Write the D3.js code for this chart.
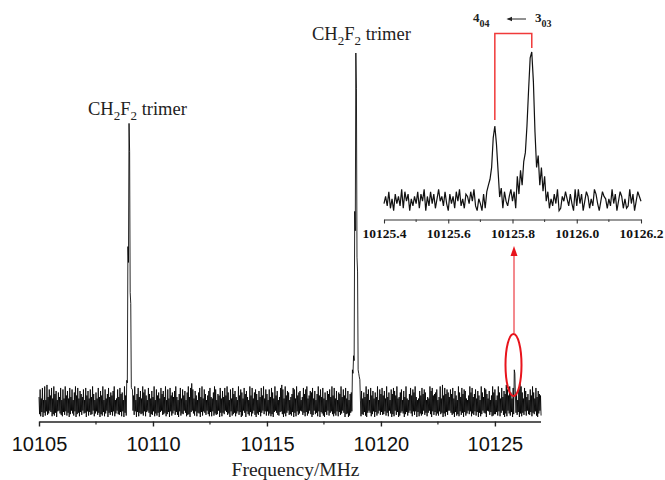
<!DOCTYPE html>
<html>
<head>
<meta charset="utf-8">
<script src="https://cdn.jsdelivr.net/npm/d3@7"></script>
<style>
  body { margin: 0; background: #fff; }
  svg { display: block; }
</style>
</head>
<body>
<div id="chart"></div>
<script>
// main spectrum, 0.05 MHz bins: upper and lower excursion of the noise in each bin
// (one base-36 digit per bin)
var mainStart = 10105, mainStep = 0.05;
var mainHigh = [
  "2718090a27381946052807193618270593816427",
  "0836172940518263907148253690172845093617",
  "5173904826195730841629073518462907183526",
  "92048173605928b7163058291740368215970438",
  "1628395071846209375184620938157406283917",
  "4072851936028a71936502487193560284791365",
  "816049372815064729381605492738160459b738",
  "3806152947083615290748361925074863912570",
  "6291048375920163847502196834570291a38475",
  "2748163095284761039582471630952874160395",
  "7039518264a73951862407b95186240739518264",
  "3"
].join("");
var mainLow = [
  "5829371640285739104682617395047195382604",
  "3917265084163957284093627184056281937450",
  "7406192835471820395618473920653852917406",
  "2691745038659204718349271360582817465093",
  "8350264917538416297039157284069462830517",
  "1748592036721594830657293816401638274059",
  "6053819247926073158471826403954973160528",
  "4185627930385192740626517380495806297314",
  "9527304816192847506383059162747153948260",
  "0364927581639274051846172938503490162875",
  "5271830694804729513629483617056283517940",
  "7"
].join("");
// peaks [MHz, relative intensity]
var mainPeaks = [
  [10108.85, 0.07], [10108.9, 0.45], [10108.95, 0.8], [10109.0, 0.32], [10109.05, 0.05],
  [10118.75, 0.1], [10118.8, 0.14], [10118.85, 0.55], [10118.9, 1.0], [10118.95, 0.42], [10119.0, 0.1], [10119.05, 0.08],
  [10125.85, 0.1]
];
var mainTicks = [10105, 10110, 10115, 10120, 10125];
var mainMinor = [10107.5, 10112.5, 10117.5, 10122.5];

// inset (zoom on 10125.4 - 10126.2 MHz), 0.005 MHz per sample
var insetStart = 10125.4, insetStep = 0.005;
var insetNoise = [
  "3628150736291847052638174906283715946283",
  "0736184925176384920530718459265307184269",
  "4815273906485127309664815273901648527309",
  "2937048615297304865152937048615129370486",
  "4"
].join("");
var insetPeaks = [
  [10125.725, 0.1], [10125.73, 0.14], [10125.735, 0.22], [10125.74, 0.42], [10125.745, 0.5],
  [10125.75, 0.38], [10125.755, 0.2], [10125.76, 0.02], [10125.765, 0.08],
  [10125.815, 0.16], [10125.82, 0.04], [10125.825, 0.2], [10125.83, 0.1], [10125.835, 0.26],
  [10125.84, 0.32], [10125.845, 0.5], [10125.85, 0.74], [10125.855, 0.96], [10125.86, 1.0],
  [10125.865, 0.8], [10125.87, 0.46], [10125.875, 0.22], [10125.88, 0.3], [10125.885, 0.1],
  [10125.89, 0.22], [10125.895, 0.06], [10125.9, 0.16]
];
var insetTicks = [10125.4, 10125.6, 10125.8, 10126.0, 10126.2];
var insetMinor = [10125.5, 10125.7, 10125.9, 10126.1];

function digit(c) { return parseInt(c, 36); }

// each bin gives two points: its high then its low excursion
var mainData = [];
mainHigh.split("").forEach(function (c, i) {
  mainData.push({ f: mainStart + i * mainStep, v: 0.014 + digit(c) * 0.0043 });
  mainData.push({ f: mainStart + (i + 0.5) * mainStep, v: -0.016 - digit(mainLow[i]) * 0.002 });
});
mainPeaks.forEach(function (p) {
  var i = Math.round((p[0] - mainStart) / mainStep);
  mainData[2 * i].v = p[1];
  if (mainData[2 * i + 1]) mainData[2 * i + 1].v = p[1] * 0.9;
});

var insetData = insetNoise.split("").map(function (c, i) {
  return { f: insetStart + i * insetStep, v: (digit(c) - 4.5) * 0.016 };
});
insetPeaks.forEach(function (p) {
  var i = Math.round((p[0] - insetStart) / insetStep);
  if (insetData[i]) insetData[i].v = p[1];
});

var W = 665, H = 480;
var svg = d3.select("#chart").append("svg")
  .attr("width", W).attr("height", H)
  .attr("font-family", "Liberation Serif, Times New Roman, serif");
svg.append("rect").attr("width", W).attr("height", H).attr("fill", "#fff");

/* ---------- main spectrum ---------- */
var x = d3.scaleLinear().domain([10105, 10127]).range([39, 540.5]);
var y = d3.scaleLinear().domain([0, 1]).range([405, 53]);
var axisY = 421.5;

svg.append("path")
  .datum(mainData)
  .attr("fill", "none")
  .attr("stroke", "#000")
  .attr("stroke-width", 0.85)
  .attr("d", d3.line().x(function (d) { return x(d.f); }).y(function (d) { return y(d.v); }));

var gx = svg.append("g")
  .attr("transform", "translate(0," + axisY + ")")
  .call(d3.axisBottom(x).tickValues(mainTicks).tickFormat(d3.format("d"))
    .tickSize(5).tickSizeOuter(0).tickPadding(10));
gx.select(".domain").attr("stroke", "#222").attr("stroke-width", 1.6);
gx.selectAll(".tick line").attr("stroke", "#222").attr("stroke-width", 1.4);
gx.selectAll(".tick text")
  .attr("font-family", "Liberation Sans, Arial, sans-serif")
  .attr("font-size", 20).attr("fill", "#111");
gx.selectAll(".minor").data(mainMinor).enter().append("line")
  .attr("class", "minor")
  .attr("x1", function (d) { return x(d); }).attr("x2", function (d) { return x(d); })
  .attr("y1", 0).attr("y2", 3)
  .attr("stroke", "#222").attr("stroke-width", 1.2);

svg.append("text")
  .attr("x", 295.5).attr("y", 476)
  .attr("text-anchor", "middle")
  .attr("font-size", 19.5).attr("fill", "#222")
  .text("Frequency/MHz");

// peak labels
function trimerLabel(px, py) {
  var t = svg.append("text").attr("x", px).attr("y", py)
    .attr("font-size", 18.5).attr("fill", "#222");
  t.append("tspan").text("CH");
  t.append("tspan").attr("dy", 5).attr("font-size", 13).text("2");
  t.append("tspan").attr("dy", -5).text("F");
  t.append("tspan").attr("dy", 5).attr("font-size", 13).text("2");
  t.append("tspan").attr("dy", -5).text(" trimer");
}
trimerLabel(88, 115);
trimerLabel(312, 40);

/* ---------- red marker ellipse and arrow ---------- */
svg.append("ellipse")
  .attr("cx", 513.5).attr("cy", 365).attr("rx", 8).attr("ry", 31)
  .attr("fill", "none").attr("stroke", "#e8141c").attr("stroke-width", 2);
svg.append("line")
  .attr("x1", 514).attr("x2", 514).attr("y1", 333).attr("y2", 254)
  .attr("stroke", "#e8141c").attr("stroke-width", 1);
svg.append("path")
  .attr("d", "M514,246 L510.5,256 L517.5,256 Z")
  .attr("fill", "#e8141c");

/* ---------- inset ---------- */
var xi = d3.scaleLinear().domain([10125.4, 10126.2]).range([384, 641]);
var yi = d3.scaleLinear().domain([0, 1]).range([200, 52]);
var insetAxisY = 219.5;

svg.append("path")
  .datum(insetData)
  .attr("fill", "none")
  .attr("stroke", "#111")
  .attr("stroke-width", 1.2)
  .attr("d", d3.line().x(function (d) { return xi(d.f); }).y(function (d) { return yi(d.v); }));

var gi = svg.append("g")
  .attr("transform", "translate(0," + insetAxisY + ")")
  .call(d3.axisBottom(xi).tickValues(insetTicks).tickFormat(d3.format(".1f"))
    .tickSize(4).tickSizeOuter(0).tickPadding(4.5));
gi.select(".domain").attr("stroke", "#333").attr("stroke-width", 1.2);
gi.selectAll(".tick line").attr("stroke", "#333").attr("stroke-width", 1.1);
gi.selectAll(".tick text")
  .attr("font-family", "Liberation Serif, Times New Roman, serif")
  .attr("font-weight", "bold").attr("font-size", 13.5).attr("fill", "#111");
gi.selectAll(".minor").data(insetMinor).enter().append("line")
  .attr("class", "minor")
  .attr("x1", function (d) { return xi(d); }).attr("x2", function (d) { return xi(d); })
  .attr("y1", 0).attr("y2", 2.5)
  .attr("stroke", "#333").attr("stroke-width", 1);

// transition bracket 4_04 <- 3_03
svg.append("path")
  .attr("d", "M" + xi(10125.745) + ",120 V33.5 H" + xi(10125.86) + " V48")
  .attr("fill", "none").attr("stroke", "#f03a3a").attr("stroke-width", 1.5);

function qLabel(px, main, sub) {
  var t = svg.append("text").attr("x", px).attr("y", 21.5)
    .attr("font-size", 13).attr("font-weight", "bold").attr("fill", "#222");
  t.append("tspan").text(main);
  t.append("tspan").attr("dy", 5).attr("font-size", 10).text(sub);
}
qLabel(473, "4", "04");
qLabel(535, "3", "03");
svg.append("line")
  .attr("x1", 510).attr("x2", 526).attr("y1", 19).attr("y2", 19)
  .attr("stroke", "#222").attr("stroke-width", 1);
svg.append("path")
  .attr("d", "M506.5,19 L512,16.8 L512,21.2 Z")
  .attr("fill", "#222");
</script>
</body>
</html>
